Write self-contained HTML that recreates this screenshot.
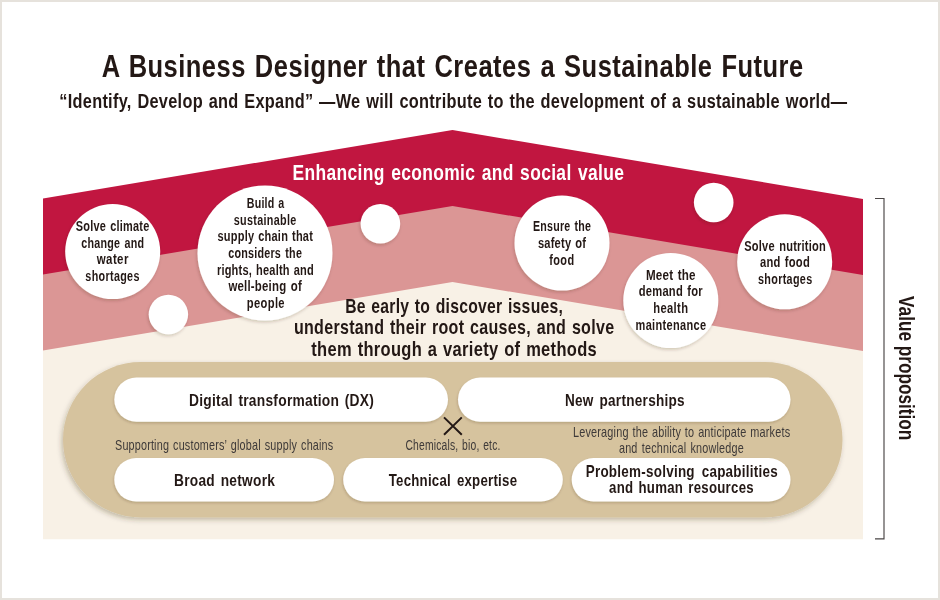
<!DOCTYPE html>
<html><head><meta charset="utf-8"><style>
html,body{margin:0;padding:0;width:940px;height:600px;overflow:hidden;background:#e6e2dc;}
svg{position:absolute;left:0;top:0;display:block;will-change:transform}
text{font-family:"Liberation Sans",sans-serif;text-anchor:middle}
</style></head><body>
<svg width="940" height="600" viewBox="0 0 940 600">
<defs>
<filter id="sh" x="-20%" y="-20%" width="140%" height="140%"><feDropShadow dx="-0.8" dy="1.8" stdDeviation="1.8" flood-color="#3b2a10" flood-opacity="0.2"/></filter>
<filter id="sh3" x="-20%" y="-20%" width="140%" height="140%"><feDropShadow dx="-0.5" dy="1.5" stdDeviation="1.2" flood-color="#3b2a10" flood-opacity="0.2"/></filter>
<filter id="sh2" x="-10%" y="-10%" width="120%" height="130%"><feDropShadow dx="-1.5" dy="2.5" stdDeviation="2.5" flood-color="#3b2a10" flood-opacity="0.28"/></filter>
</defs>
<rect x="2" y="2" width="936" height="596" fill="#fff"/>
<polygon points="43,198.5 452.5,130 863,199 863,400 43,400" fill="#c11640"/>
<polygon points="43,274.5 452.5,206 863,275 863,450 43,450" fill="#db9695"/>
<polygon points="43,350.5 452.5,282 863,351 863,539.3 43,539.3" fill="#f8f1e6"/>
<polyline points="875,198.5 884,198.5 884,538.8 875,538.8" fill="none" stroke="#4a4646" stroke-width="1.15"/>
<rect x="63" y="362" width="779.5" height="155.5" rx="77.75" fill="#d6c39e" filter="url(#sh2)"/>
<rect x="114.3" y="377.5" width="333.70" height="44.20" rx="22.10" fill="#fff" filter="url(#sh3)"/>
<rect x="458" y="377.5" width="332.50" height="44.20" rx="22.10" fill="#fff" filter="url(#sh3)"/>
<rect x="114.3" y="458" width="219.70" height="43.50" rx="21.75" fill="#fff" filter="url(#sh3)"/>
<rect x="343.2" y="458" width="219.60" height="43.50" rx="21.75" fill="#fff" filter="url(#sh3)"/>
<rect x="571.7" y="458" width="218.80" height="43.50" rx="21.75" fill="#fff" filter="url(#sh3)"/>
<circle cx="112.7" cy="251.6" r="47.5" fill="#fff" filter="url(#sh)"/>
<circle cx="265" cy="253" r="67.5" fill="#fff" filter="url(#sh)"/>
<circle cx="562" cy="243" r="47.5" fill="#fff" filter="url(#sh)"/>
<circle cx="670.8" cy="300.5" r="47.5" fill="#fff" filter="url(#sh)"/>
<circle cx="784.7" cy="261.8" r="47.5" fill="#fff" filter="url(#sh)"/>
<circle cx="168.4" cy="314.5" r="19.7" fill="#fff" filter="url(#sh)"/>
<circle cx="380.4" cy="223.75" r="19.8" fill="#fff" filter="url(#sh)"/>
<circle cx="713.7" cy="202.5" r="19.8" fill="#fff" filter="url(#sh)"/>
<path d="M444,417.4 L461.8,434.8 M461.8,417.4 L444,434.8" stroke="#231815" stroke-width="2"/>
<text transform="translate(452.64 76.60) scale(0.8050 1)" font-size="31.69" letter-spacing="0.587" word-spacing="1.868" font-weight="bold" fill="#231815">A Business Designer that Creates a Sustainable Future</text>
<text transform="translate(453.25 107.50) scale(0.8436 1)" font-size="19.33" letter-spacing="0.355" word-spacing="1.078" font-weight="bold" fill="#231815">“Identify, Develop and Expand” —We will contribute to the development of a sustainable world—</text>
<text transform="translate(458.42 179.80) scale(0.8052 1)" font-size="21.66" letter-spacing="0.424" word-spacing="1.544" font-weight="bold" fill="#fff">Enhancing economic and social value</text>
<text transform="translate(112.61 231.10) scale(0.7921 1)" font-size="13.81" letter-spacing="0.271" word-spacing="1.394" font-weight="bold" fill="#231815">Solve climate</text>
<text transform="translate(112.77 247.60) scale(0.7762 1)" font-size="13.81" letter-spacing="0.314" word-spacing="1.212" font-weight="bold" fill="#231815">change and</text>
<text transform="translate(112.77 264.20) scale(0.8319 1)" font-size="13.81" letter-spacing="0.476" word-spacing="0.000" font-weight="bold" fill="#231815">water</text>
<text transform="translate(112.52 280.70) scale(0.7787 1)" font-size="13.81" letter-spacing="0.434" word-spacing="0.000" font-weight="bold" fill="#231815">shortages</text>
<text transform="translate(265.56 207.90) scale(0.7724 1)" font-size="13.81" letter-spacing="0.283" word-spacing="0.728" font-weight="bold" fill="#231815">Build a</text>
<text transform="translate(265.16 224.57) scale(0.7814 1)" font-size="13.81" letter-spacing="0.400" word-spacing="0.000" font-weight="bold" fill="#231815">sustainable</text>
<text transform="translate(265.30 241.24) scale(0.7982 1)" font-size="13.81" letter-spacing="0.261" word-spacing="0.896" font-weight="bold" fill="#231815">supply chain that</text>
<text transform="translate(265.21 257.91) scale(0.7787 1)" font-size="13.81" letter-spacing="0.276" word-spacing="1.418" font-weight="bold" fill="#231815">considers the</text>
<text transform="translate(265.42 274.58) scale(0.7994 1)" font-size="13.81" letter-spacing="0.249" word-spacing="0.909" font-weight="bold" fill="#231815">rights, health and</text>
<text transform="translate(265.21 291.25) scale(0.8277 1)" font-size="13.81" letter-spacing="0.259" word-spacing="1.334" font-weight="bold" fill="#231815">well-being of</text>
<text transform="translate(265.84 307.92) scale(0.8091 1)" font-size="13.81" letter-spacing="0.468" word-spacing="0.000" font-weight="bold" fill="#231815">people</text>
<text transform="translate(562.06 230.80) scale(0.7709 1)" font-size="13.81" letter-spacing="0.292" word-spacing="1.127" font-weight="bold" fill="#231815">Ensure the</text>
<text transform="translate(562.08 247.70) scale(0.8050 1)" font-size="13.81" letter-spacing="0.262" word-spacing="0.897" font-weight="bold" fill="#231815">safety of</text>
<text transform="translate(561.86 264.50) scale(0.7913 1)" font-size="13.81" letter-spacing="0.524" word-spacing="0.000" font-weight="bold" fill="#231815">food</text>
<text transform="translate(670.87 279.60) scale(0.8427 1)" font-size="13.81" letter-spacing="0.295" word-spacing="0.885" font-weight="bold" fill="#231815">Meet the</text>
<text transform="translate(670.82 296.20) scale(0.8087 1)" font-size="13.81" letter-spacing="0.308" word-spacing="1.187" font-weight="bold" fill="#231815">demand for</text>
<text transform="translate(670.82 312.90) scale(0.8106 1)" font-size="13.81" letter-spacing="0.428" word-spacing="0.000" font-weight="bold" fill="#231815">health</text>
<text transform="translate(671.03 329.60) scale(0.7958 1)" font-size="13.81" letter-spacing="0.444" word-spacing="0.000" font-weight="bold" fill="#231815">maintenance</text>
<text transform="translate(785.10 250.50) scale(0.8020 1)" font-size="13.81" letter-spacing="0.254" word-spacing="1.526" font-weight="bold" fill="#231815">Solve nutrition</text>
<text transform="translate(785.02 267.00) scale(0.8114 1)" font-size="13.81" letter-spacing="0.307" word-spacing="0.921" font-weight="bold" fill="#231815">and food</text>
<text transform="translate(785.27 283.50) scale(0.7801 1)" font-size="13.81" letter-spacing="0.434" word-spacing="0.000" font-weight="bold" fill="#231815">shortages</text>
<text transform="translate(454.19 312.80) scale(0.7612 1)" font-size="20.64" letter-spacing="0.371" word-spacing="1.073" font-weight="bold" fill="#231815">Be early to discover issues,</text>
<text transform="translate(454.15 334.40) scale(0.7782 1)" font-size="20.64" letter-spacing="0.379" word-spacing="1.235" font-weight="bold" fill="#231815">understand their root causes, and solve</text>
<text transform="translate(454.16 356.00) scale(0.7992 1)" font-size="20.64" letter-spacing="0.391" word-spacing="1.072" font-weight="bold" fill="#231815">them through a variety of methods</text>
<text transform="translate(281.52 405.60) scale(0.8476 1)" font-size="16.28" letter-spacing="0.293" word-spacing="1.635" font-weight="bold" fill="#231815">Digital transformation (DX)</text>
<text transform="translate(624.94 405.60) scale(0.8330 1)" font-size="16.28" letter-spacing="0.336" word-spacing="2.157" font-weight="bold" fill="#231815">New partnerships</text>
<text transform="translate(224.60 485.50) scale(0.8425 1)" font-size="16.28" letter-spacing="0.350" word-spacing="1.800" font-weight="bold" fill="#231815">Broad network</text>
<text transform="translate(452.97 485.50) scale(0.8144 1)" font-size="16.28" letter-spacing="0.307" word-spacing="2.367" font-weight="bold" fill="#231815">Technical expertise</text>
<text transform="translate(681.82 476.60) scale(0.8499 1)" font-size="15.84" letter-spacing="0.293" word-spacing="3.392" font-weight="bold" fill="#231815">Problem-solving capabilities</text>
<text transform="translate(681.49 493.30) scale(0.8349 1)" font-size="15.84" letter-spacing="0.337" word-spacing="1.300" font-weight="bold" fill="#231815">and human resources</text>
<text transform="translate(224.19 449.50) scale(0.7436 1)" font-size="14.54" letter-spacing="0.251" word-spacing="1.101" font-weight="normal" fill="#3e3a39">Supporting customers’ global supply chains</text>
<text transform="translate(452.99 449.50) scale(0.7116 1)" font-size="14.54" letter-spacing="0.246" word-spacing="1.001" font-weight="normal" fill="#3e3a39">Chemicals, bio, etc.</text>
<text transform="translate(681.64 437.00) scale(0.7493 1)" font-size="14.54" letter-spacing="0.236" word-spacing="0.870" font-weight="normal" fill="#3e3a39">Leveraging the ability to anticipate markets</text>
<text transform="translate(681.45 453.40) scale(0.7453 1)" font-size="14.54" letter-spacing="0.267" word-spacing="1.257" font-weight="normal" fill="#3e3a39">and technical knowledge</text>
<text transform="translate(899.2 368.2) rotate(90) scale(0.7739 1)" font-size="22.24" font-weight="bold" fill="#231815">Value proposition</text>
</svg>
</body></html>
